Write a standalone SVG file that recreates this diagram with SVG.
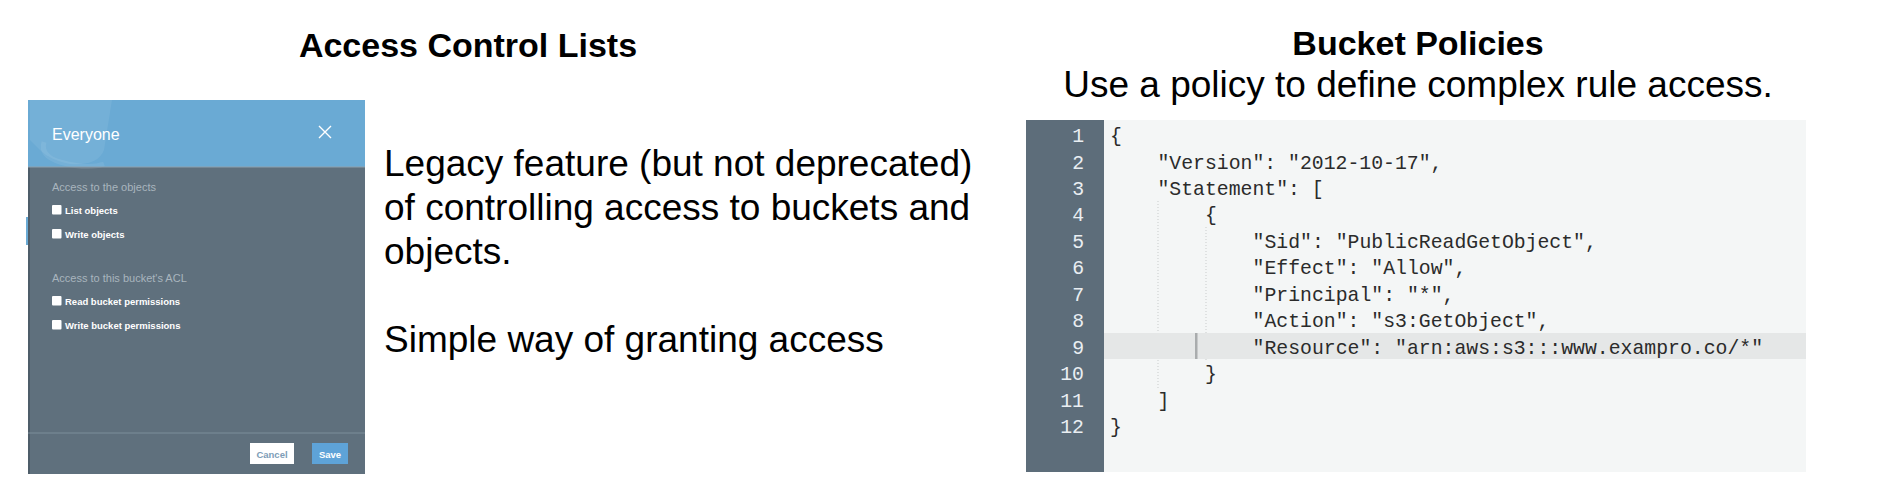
<svg xmlns="http://www.w3.org/2000/svg" width="1879" height="495" viewBox="0 0 1879 495">
<style>
.title{font-family:"Liberation Sans",Arial,sans-serif;font-weight:bold;font-size:34px;fill:#000;text-anchor:middle}
.big{font-family:"Liberation Sans",Arial,sans-serif;font-size:37px;fill:#000}
.dlg{font-family:"Liberation Sans",Arial,sans-serif}
.sec{font-size:11px;fill:#a9b5be}
.lbl{font-size:9.5px;font-weight:bold;fill:#fff}
.cb{fill:#fff}
.code{font-family:"Liberation Mono","DejaVu Sans Mono",monospace;font-size:19.8px;fill:#2b2b2b}
.num{font-family:"Liberation Mono","DejaVu Sans Mono",monospace;font-size:19.8px;fill:#e9eef2;text-anchor:end}
.guide{stroke:#c9cccc;stroke-width:1;stroke-dasharray:1 2;fill:none}
</style>
<rect width="1879" height="495" fill="#ffffff"/>

<g id="acl-title">
<text class="title" x="468" y="57">Access Control Lists</text>
</g>

<g id="acl-dialog">
<rect x="26" y="217" width="4" height="28" fill="#6aaad4"/>
<rect x="28" y="100" width="337" height="374" fill="#5f707d"/>
<rect x="28" y="100" width="2" height="374" fill="#4e5d69"/>
<rect x="28" y="100" width="337" height="67" fill="#6aaad4"/>
<path d="M30,100 L112,100 L104,150 Q98,166 70,164 Q50,160 40,150 L30,140 Z" fill="#ffffff" opacity="0.07"/>
<path d="M44,142 Q40,156 60,162 Q88,170 104,164" fill="none" stroke="#ffffff" stroke-width="5" opacity="0.08"/>
<line x1="28" y1="167" x2="365" y2="167" stroke="#8ea0ad" stroke-width="1"/>
<text class="dlg" x="52" y="140" font-size="16" fill="#ffffff">Everyone</text>
<path d="M319,126 L331,138 M331,126 L319,138" stroke="#ffffff" stroke-width="1.4" fill="none"/>
<text class="dlg sec" x="52" y="191">Access to the objects</text>
<rect class="cb" x="52" y="205" width="9.5" height="9.5" rx="1"/>
<text class="dlg lbl" x="65" y="213.5">List objects</text>
<rect class="cb" x="52" y="229" width="9.5" height="9.5" rx="1"/>
<text class="dlg lbl" x="65" y="237.5">Write objects</text>
<text class="dlg sec" x="52" y="282">Access to this bucket's ACL</text>
<rect class="cb" x="52" y="296" width="9.5" height="9.5" rx="1"/>
<text class="dlg lbl" x="65" y="304.5">Read bucket permissions</text>
<rect class="cb" x="52" y="320" width="9.5" height="9.5" rx="1"/>
<text class="dlg lbl" x="65" y="328.5">Write bucket permissions</text>
<line x1="28" y1="433" x2="365" y2="433" stroke="#7d8e9b" stroke-width="1"/>
<rect x="250" y="443" width="44" height="21" fill="#ffffff"/>
<text class="dlg" x="272" y="457.5" font-size="9.5" font-weight="bold" fill="#7d9db7" text-anchor="middle">Cancel</text>
<rect x="312" y="443" width="36" height="21" fill="#5ea3d8"/>
<text class="dlg" x="330" y="457.5" font-size="9.5" font-weight="bold" fill="#ffffff" text-anchor="middle">Save</text>
</g>

<g id="acl-text">
<text class="big" x="384" y="176">Legacy feature (but not deprecated)</text>
<text class="big" x="384" y="220">of controlling access to buckets and</text>
<text class="big" x="384" y="264">objects.</text>
<text class="big" x="384" y="352">Simple way of granting access</text>
</g>

<g id="bp-title">
<text class="title" x="1418" y="55">Bucket Policies</text>
<text class="big" x="1418" y="97" text-anchor="middle">Use a policy to define complex rule access.</text>
</g>

<g id="bp-code">
<rect x="1026" y="120" width="780" height="352" fill="#f4f6f6"/>
<rect x="1026" y="120" width="78" height="352" fill="#5d6d7a"/>
<line class="guide" x1="1158" y1="201" x2="1158" y2="388"/>
<line class="guide" x1="1206" y1="227" x2="1206" y2="360"/>
<rect x="1104" y="333" width="702" height="26" fill="#e5e7e7"/>
<rect x="1195" y="333" width="2.5" height="26" fill="#a9acad"/>
<text class="num" x="1084" y="142">1</text>
<text class="num" x="1084" y="168.5">2</text>
<text class="num" x="1084" y="194.9">3</text>
<text class="num" x="1084" y="221.4">4</text>
<text class="num" x="1084" y="247.8">5</text>
<text class="num" x="1084" y="274.3">6</text>
<text class="num" x="1084" y="300.7">7</text>
<text class="num" x="1084" y="327.2">8</text>
<text class="num" x="1084" y="353.6">9</text>
<text class="num" x="1084" y="380.1">10</text>
<text class="num" x="1084" y="406.5">11</text>
<text class="num" x="1084" y="433">12</text>
<text class="code" x="1110" y="142">{</text>
<text class="code" x="1157.5" y="168.5">"Version": "2012-10-17",</text>
<text class="code" x="1157.5" y="194.9">"Statement": [</text>
<text class="code" x="1205" y="221.4">{</text>
<text class="code" x="1252.6" y="247.8">"Sid": "PublicReadGetObject",</text>
<text class="code" x="1252.6" y="274.3">"Effect": "Allow",</text>
<text class="code" x="1252.6" y="300.7">"Principal": "*",</text>
<text class="code" x="1252.6" y="327.2">"Action": "s3:GetObject",</text>
<text class="code" x="1252.6" y="353.6">"Resource": "arn:aws:s3:::www.exampro.co/*"</text>
<text class="code" x="1205" y="380.1">}</text>
<text class="code" x="1157.5" y="406.5">]</text>
<text class="code" x="1110" y="433">}</text>
</g>
</svg>
